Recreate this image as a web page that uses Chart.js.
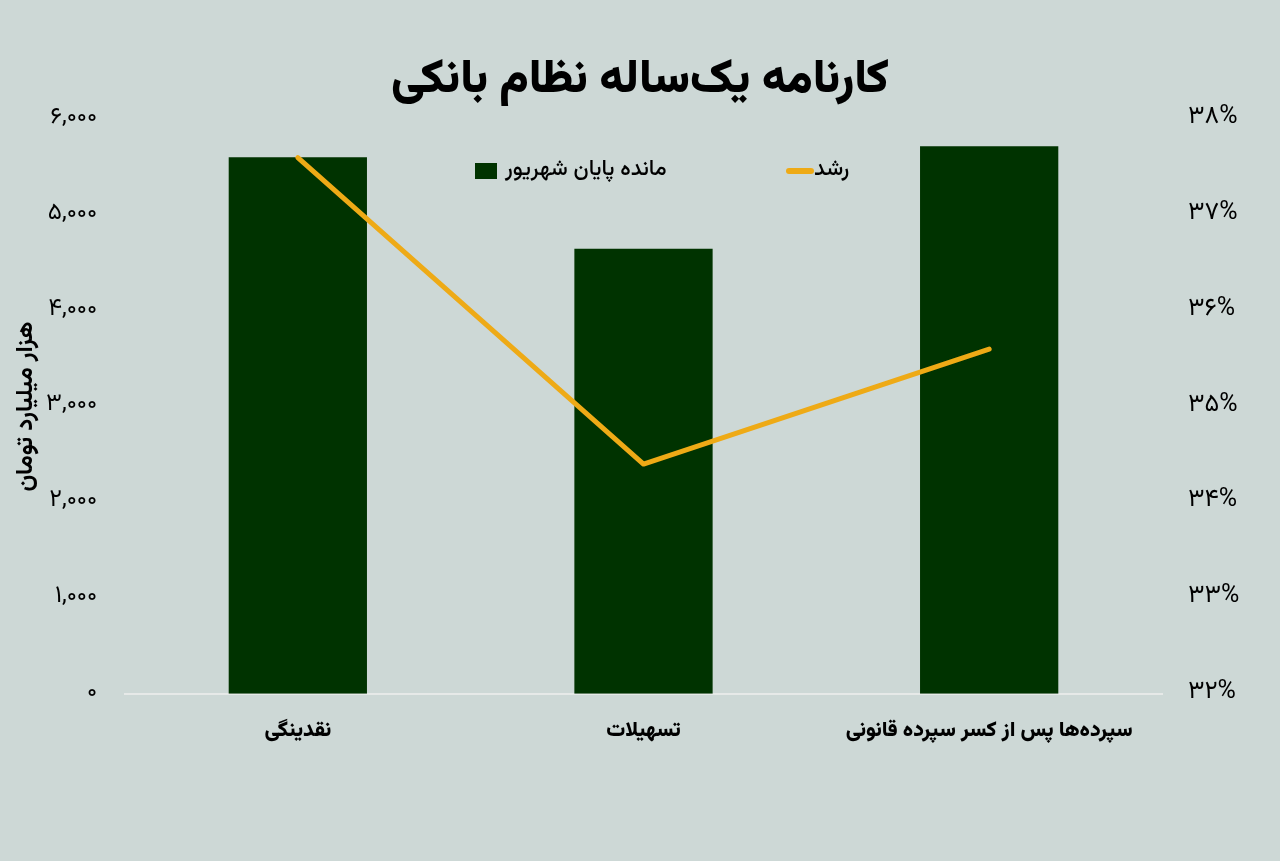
<!DOCTYPE html>
<html lang="fa">
<head>
<meta charset="utf-8">
<title>کارنامه یک‌ساله نظام بانکی</title>
<script src="https://cdn.jsdelivr.net/npm/chart.js@4.4.0/dist/chart.umd.min.js"></script>
<style>
  html, body { margin: 0; padding: 0; background: #cdd8d6; }
  #wrap { position: relative; width: 1280px; height: 861px; }
  .lg { position: absolute; font-family: Vazirmatn, "DejaVu Sans", sans-serif; font-size: 22px; font-weight: 500; color: #000; white-space: nowrap; line-height: 1.4; }
  .sw { position: absolute; }
</style>
</head>
<body>
<div id="wrap">
  <canvas id="chart"></canvas>
  <!-- legend -->
  <div class="sw" style="left:475px; top:163px; width:22px; height:16px; background:#003300;"></div>
  <div class="lg" dir="rtl" id="lgBar" style="left:505px; top:155px;"></div>
  <div class="sw" style="left:786px; top:168px; width:28px; height:6px; border-radius:3px; background:#eeaa16;"></div>
  <div class="lg" dir="rtl" id="lgLine" style="left:814px; top:155px;"></div>
</div>
<script>
// داده‌ها
var categories = ["نقدینگی", "تسهیلات", "سپرده‌ها پس از کسر سپرده قانونی"];
var balance = [5605, 4650, 5720]; // هزار میلیارد تومان
var growth = [37.6, 34.4, 35.6]; // درصد
var leftTicks = [0, 1000, 2000, 3000, 4000, 5000, 6000];
var rightTicks = [32, 33, 34, 35, 36, 37, 38];

var barLabel = "مانده پایان شهریور";
var lineLabel = "رشد";

document.getElementById("lgBar").textContent = barLabel;
document.getElementById("lgLine").textContent = lineLabel;

// ارقام فارسی
function fa(s) {
  return String(s).replace(/\d/g, function (d) { return "۰۱۲۳۴۵۶۷۸۹"[d]; });
}

var FONT = "Vazirmatn, 'DejaVu Sans', sans-serif";

new Chart(document.getElementById("chart").getContext("2d"), {
  type: "bar",
  data: {
    labels: categories,
    datasets: [
      {
        type: "bar",
        label: barLabel,
        data: balance,
        backgroundColor: "#003300",
        borderWidth: 0,
        barPercentage: 0.4,
        categoryPercentage: 1.0,
        yAxisID: "y",
        order: 2,
      },
      {
        type: "line",
        label: lineLabel,
        data: growth,
        borderColor: "#eeaa16",
        backgroundColor: "#eeaa16",
        borderWidth: 5,
        pointRadius: 0,
        tension: 0,
        borderCapStyle: "round",
        borderJoinStyle: "round",
        yAxisID: "y1",
        order: 1,
      },
    ],
  },
  options: {
    responsive: true,
    maintainAspectRatio: false,
    animation: false,
    layout: { padding: { left: 0, right: 0, bottom: 90, top: 0 } },
    plugins: {
      legend: { display: false },
      tooltip: { enabled: false },
      title: {
        display: true,
        text: "کارنامه یک‌ساله نظام بانکی",
        color: "#000",
        font: { family: FONT, size: 47, weight: "900" },
        padding: { top: 56, bottom: 7 },
      },
    },
    scales: {
      x: {
        grid: { display: false, drawTicks: false },
        border: { display: true, color: "#e6e9e8", width: 2 },
        // برچسب بلند آخر نباید ناحیه نمودار را تنگ کند
        afterFit: function (axis) {
          axis.paddingLeft = 0;
          axis.paddingRight = 0;
        },
        ticks: {
          color: "#000",
          padding: 26,
          maxRotation: 0,
          minRotation: 0,
          autoSkip: false,
          font: { family: FONT, size: 21, weight: "900" },
        },
      },
      y: {
        position: "left",
        min: 0,
        max: 6000,
        afterBuildTicks: function (axis) {
          axis.ticks = leftTicks.map(function (v) { return { value: v }; });
        },
        afterFit: function (axis) {
          axis.width = 125;
        },
        grid: { display: false, drawTicks: false },
        border: { display: false },
        ticks: {
          color: "#000",
          padding: 28,
          font: { family: FONT, size: 24 },
          callback: function (v) { return fa(v.toLocaleString("en-US")); },
        },
        title: {
          display: true,
          text: "هزار میلیارد تومان",
          color: "#000",
          font: { family: FONT, size: 24, weight: "bold" },
          padding: { top: 14, bottom: 0 },
        },
      },
      y1: {
        position: "right",
        min: 32,
        max: 38,
        afterBuildTicks: function (axis) {
          axis.ticks = rightTicks.map(function (v) { return { value: v }; });
        },
        afterFit: function (axis) {
          axis.width = 118;
        },
        grid: { display: false, drawTicks: false },
        border: { display: false },
        ticks: {
          color: "#000",
          padding: 26,
          font: { family: FONT, size: 25 },
          callback: function (v) { return fa(v) + "%"; },
        },
      },
    },
  },
});
</script>
</body>
</html>
